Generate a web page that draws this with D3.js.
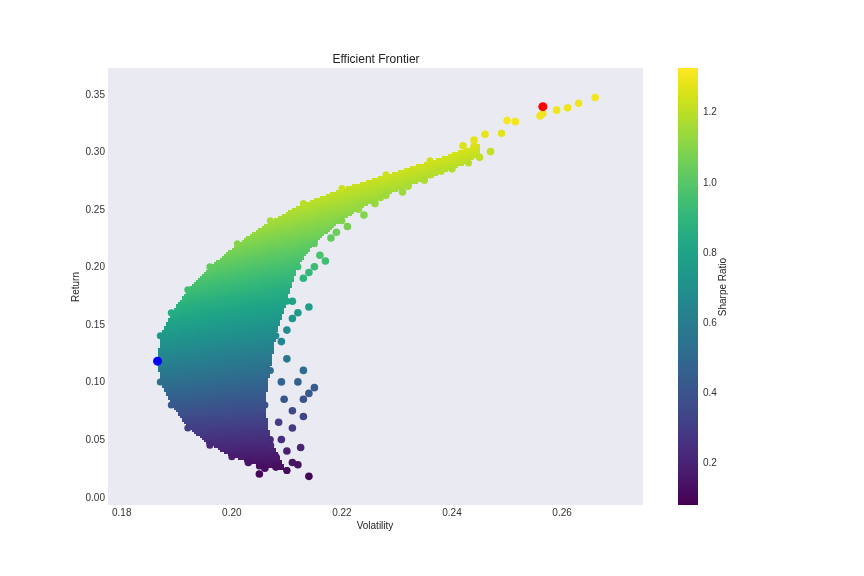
<!DOCTYPE html><html><head><meta charset="utf-8">
<script src="https://cdn.jsdelivr.net/npm/d3@7"></script>
<style>body{margin:0;background:#fff}svg,canvas{position:absolute;left:0;top:0}text{font-family:"Liberation Sans",Arial,sans-serif}</style>
</head><body><canvas id="c" width="864" height="576"></canvas><svg id="s" width="864" height="576"></svg>
<script>
// Dense region envelope (volatility, return)
const upperEdge=[[0.1865,0.118],[0.187,0.14],[0.189,0.16],[0.192,0.18],[0.196,0.20],[0.201,0.22],[0.207,0.24],[0.213,0.255],[0.220,0.268],[0.228,0.28],[0.236,0.292],[0.244,0.305],[0.249,0.316]];
const lowerEdge=[[0.1865,0.118],[0.187,0.10],[0.189,0.08],[0.192,0.06],[0.196,0.045],[0.200,0.035],[0.205,0.027],[0.210,0.023]];
const rightEdge=[[0.210,0.023],[0.207,0.05],[0.206,0.08],[0.207,0.11],[0.208,0.14],[0.210,0.17],[0.212,0.20],[0.215,0.22],[0.220,0.24],[0.227,0.26],[0.235,0.275],[0.243,0.29],[0.249,0.316]];
const outliers=[[0.214,0.018],[0.212,0.028],[0.210,0.04],[0.211,0.06],[0.213,0.07],[0.214,0.09],[0.215,0.095],[0.213,0.085],[0.209,0.10],[0.210,0.12],[0.209,0.135],[0.212,0.16],[0.211,0.17],[0.213,0.19],[0.215,0.2],[0.216,0.21],[0.218,0.225],[0.221,0.235],[0.223,0.25],[0.226,0.255],[0.228,0.262],[0.232,0.27],[0.236,0.28],[0.240,0.285],[0.245,0.295],[0.247,0.30],[0.250,0.327],[0.2515,0.326],[0.256,0.331],[0.2565,0.333],[0.259,0.336],[0.261,0.338],[0.263,0.342],[0.266,0.347],[0.242,0.305],[0.244,0.31],[0.246,0.315],[0.208,0.035],[0.206,0.025],[0.203,0.03],[0.207,0.045],[0.209,0.05],[0.211,0.075],[0.213,0.11],[0.21,0.145],[0.214,0.195],[0.219,0.23],[0.2125,0.043],[0.2085,0.065],[0.205,0.02],[0.208,0.026],[0.211,0.03],[0.2095,0.085],[0.212,0.1],[0.211,0.155],[0.214,0.165],[0.217,0.205],[0.224,0.245],[0.231,0.265],[0.238,0.283]];
const maxSharpe=[0.2565,0.339], minVol=[0.1865,0.118];
const xTicks=[0.18,0.20,0.22,0.24,0.26], yTicks=[0,0.05,0.10,0.15,0.20,0.25,0.30,0.35], cTicks=[0.2,0.4,0.6,0.8,1.0,1.2];

const x=d3.scaleLinear([0.1775,0.2747],[108,643]);
const y=d3.scaleLinear([-0.0069,0.3726],[505,68]);
const cs=d3.scaleSequential(d3.interpolateViridis).domain([0.08,1.325]);
const sharpe=d=>d[1]/d[0];
const svg=d3.select("#s");
const ctx=document.getElementById("c").getContext("2d");
ctx.fillStyle="#eaeaf2";ctx.fillRect(108,68,535,437);
// dense fill
const poly=upperEdge.concat(rightEdge.slice().reverse(),lowerEdge.slice().reverse()).map(d=>[x(d[0]),y(d[1])]);
for(let px=140;px<480;px+=2)for(let py=90;py<480;py+=2){
  if(d3.polygonContains(poly,[px+1,py+1])){ctx.fillStyle=cs(y.invert(py+1)/x.invert(px+1));ctx.fillRect(px,py,2,2);}
}
function dots(arr,r){arr.forEach(d=>{ctx.beginPath();ctx.arc(x(d[0]),y(d[1]),r,0,2*Math.PI);ctx.fillStyle=cs(sharpe(d));ctx.fill();});}
dots(upperEdge.concat(lowerEdge,rightEdge),3.5);dots(outliers,3.8);
[[maxSharpe,"#ff0000"],[minVol,"#0000ff"]].forEach(([d,c])=>{ctx.beginPath();ctx.arc(x(d[0]),y(d[1]),4.5,0,2*Math.PI);ctx.fillStyle=c;ctx.fill();});
// colorbar
for(let py=68;py<505;py++){ctx.fillStyle=cs(d3.scaleLinear([68,505],[1.325,0.08])(py+0.5));ctx.fillRect(678,py,20,1);}
const cy=d3.scaleLinear([0.08,1.325],[505,68]);
const tc="#333";
svg.append("g").selectAll("text").data(xTicks).join("text").attr("x",d=>x(d)).attr("y",516).attr("text-anchor","middle").attr("font-size",10).attr("fill",tc).text(d=>d.toFixed(2));
svg.append("g").selectAll("text").data(yTicks).join("text").attr("x",105).attr("y",d=>y(d)+3.5).attr("text-anchor","end").attr("font-size",10).attr("fill",tc).text(d=>d.toFixed(2));
svg.append("g").selectAll("text").data(cTicks).join("text").attr("x",703).attr("y",d=>cy(d)+3.5).attr("font-size",10).attr("fill",tc).text(d=>d.toFixed(1));
svg.append("text").attr("x",375).attr("y",529).attr("text-anchor","middle").attr("font-size",10).attr("fill","#222").text("Volatility");
svg.append("text").attr("transform","translate(79,287) rotate(-90)").attr("text-anchor","middle").attr("font-size",10).attr("fill","#222").text("Return");
svg.append("text").attr("transform","translate(726,287) rotate(-90)").attr("text-anchor","middle").attr("font-size",10).attr("fill","#222").text("Sharpe Ratio");
svg.append("text").attr("x",376).attr("y",63).attr("text-anchor","middle").attr("font-size",12).attr("fill","#222").text("Efficient Frontier");
</script></body></html>
